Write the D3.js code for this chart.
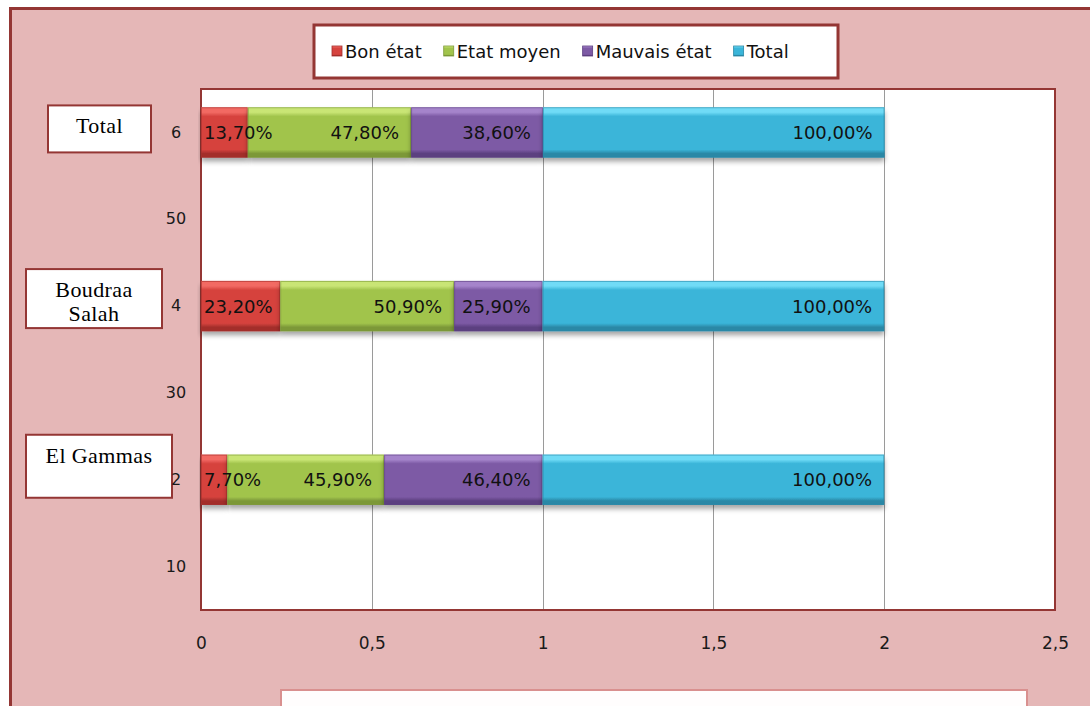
<!DOCTYPE html>
<html>
<head>
<meta charset="utf-8">
<script src="https://cdn.jsdelivr.net/npm/d3@7"></script>
<style>
  body { margin: 0; background: #ffffff; }
  svg { display: block; }
</style>
</head>
<body>
<svg id="chart"></svg>
<script>
/* Data */
const sites = ["El Gammas", "Boudraa Salah", "Total"];
const siteRows = ["2", "4", "6"];
const bonEtat = [0.077, 0.232, 0.137];
const etatMoyen = [0.459, 0.509, 0.478];
const mauvaisEtat = [0.464, 0.259, 0.386];
const totalShare = [1, 1, 1];
const seriesNames = ["Bon état", "Etat moyen", "Mauvais état", "Total"];
const yTickLabels = ["10", "2", "30", "4", "50", "6"];
const xTicks = [0, 0.5, 1, 1.5, 2, 2.5];

/* colours: base, top highlight, bottom shade */
const palette = [
  ["#d6433e", "#f26a64", "#a32e2b"],
  ["#a1c44c", "#c9e575", "#7c9838"],
  ["#7d5aa5", "#a584cb", "#5c3f80"],
  ["#3ab5d9", "#6fdbf6", "#2a88a6"]
];

const rows = sites.map((s, i) => ({
  site: s, row: siteRows[i],
  "Bon état": bonEtat[i], "Etat moyen": etatMoyen[i],
  "Mauvais état": mauvaisEtat[i], "Total": totalShare[i]
}));

const W = 1090, H = 706;
const frame = "#943634";
const svg = d3.select("#chart").attr("width", W).attr("height", H);

/* Gradients and shadow */
const defs = svg.append("defs");
palette.forEach((c, i) => {
  const g = defs.append("linearGradient").attr("id", "grad" + i)
    .attr("x1", 0).attr("y1", 0).attr("x2", 0).attr("y2", 1);
  g.append("stop").attr("offset", "0%").attr("stop-color", c[1]);
  g.append("stop").attr("offset", "10%").attr("stop-color", c[1]);
  g.append("stop").attr("offset", "18%").attr("stop-color", c[0]);
  g.append("stop").attr("offset", "84%").attr("stop-color", c[0]);
  g.append("stop").attr("offset", "92%").attr("stop-color", c[2]);
  g.append("stop").attr("offset", "100%").attr("stop-color", c[2]);
});
const sh = defs.append("filter").attr("id", "shadow")
  .attr("x", "-5%").attr("y", "-20%").attr("width", "110%").attr("height", "160%");
sh.append("feDropShadow").attr("dx", 0).attr("dy", 4).attr("stdDeviation", 2.5)
  .attr("flood-color", "#000").attr("flood-opacity", 0.35);

/* Background and outer frame */
svg.append("rect").attr("x", 10).attr("y", 8).attr("width", W - 10).attr("height", H - 8)
  .attr("fill", "#e5b7b7");
svg.append("line").attr("x1", 9).attr("x2", W).attr("y1", 8.5).attr("y2", 8.5)
  .attr("stroke", frame).attr("stroke-width", 3);
svg.append("line").attr("x1", 10.5).attr("x2", 10.5).attr("y1", 7).attr("y2", H)
  .attr("stroke", frame).attr("stroke-width", 3);

/* Plot area */
const plot = { left: 201, right: 1055, top: 89, bottom: 610 };
const x = d3.scaleLinear().domain([0, 2.5]).range([plot.left, plot.right]);
const y = d3.scaleBand().domain(yTickLabels).range([plot.bottom, plot.top]);

svg.append("rect").attr("x", plot.left).attr("y", plot.top)
  .attr("width", plot.right - plot.left).attr("height", plot.bottom - plot.top)
  .attr("fill", "#ffffff").attr("stroke", frame).attr("stroke-width", 2);

/* Gridlines */
svg.append("g").selectAll("line").data(xTicks.filter(t => t > 0 && t < 2.5)).join("line")
  .attr("x1", d => Math.round(x(d)) + 0.5).attr("x2", d => Math.round(x(d)) + 0.5)
  .attr("y1", plot.top + 1).attr("y2", plot.bottom - 1)
  .attr("stroke", "#9a9a9a").attr("stroke-width", 1);

/* X axis */
const xAxis = svg.append("g").attr("transform", `translate(0,${plot.bottom + 24})`)
  .call(d3.axisBottom(x).tickValues(xTicks).tickSize(0)
    .tickFormat(d => String(d).replace(".", ",")));
xAxis.select(".domain").remove();
xAxis.selectAll("text").attr("font-family", "DejaVu Sans").attr("font-size", 17)
  .attr("fill", "#1a1a1a");

/* Category label boxes */
const boxes = [
  { x: 26, w: 146, top: -45, h: 63, lines: ["El Gammas"], first: -17 },
  { x: 26, w: 136, top: -37, h: 59, lines: ["Boudraa", "Salah"], first: -9 },
  { x: 48, w: 103, top: -27, h: 47, lines: ["Total"], first: 1 }
];
rows.forEach((r, i) => {
  const cy = y(r.row) + y.bandwidth() / 2;
  const b = boxes[i];
  const g = svg.append("g");
  g.append("rect").attr("x", b.x).attr("y", cy + b.top).attr("width", b.w).attr("height", b.h)
    .attr("fill", "#ffffff").attr("stroke", frame).attr("stroke-width", 2);
  b.lines.forEach((ln, k) => {
    g.append("text").attr("x", b.x + b.w / 2).attr("y", cy + b.first + k * 24)
      .attr("text-anchor", "middle").attr("font-family", "Liberation Serif")
      .attr("font-size", 22).attr("letter-spacing", 0.4).attr("fill", "#000").text(ln);
  });
});

/* Y axis labels */
const yAxis = svg.append("g").attr("transform", `translate(${plot.left - 25},0)`)
  .call(d3.axisLeft(y).tickSize(0).tickPadding(0));
yAxis.select(".domain").remove();
yAxis.selectAll("text").attr("text-anchor", "middle").attr("font-family", "DejaVu Sans")
  .attr("font-size", 16).attr("fill", "#1a1a1a");

/* Stacked bars */
const stacked = d3.stack().keys(seriesNames)(rows);
const barH = y.bandwidth() * 0.58;
const barY = d => y(d.data.row) + (y.bandwidth() - barH) / 2;

const layers = svg.append("g").selectAll("g").data(stacked).join("g")
  .attr("fill", (d, i) => `url(#grad${i})`);
layers.selectAll("rect").data(d => d).join("rect")
  .attr("x", d => x(d[0])).attr("y", barY)
  .attr("width", d => x(d[1]) - x(d[0])).attr("height", barH)
  .attr("filter", "url(#shadow)");
layers.each(function (s, i) {
  d3.select(this).selectAll("rect.edge").data(s).join("rect").attr("class", "edge")
    .attr("x", d => x(d[0]) + 0.5).attr("y", d => barY(d) + 0.5)
    .attr("width", d => x(d[1]) - x(d[0]) - 1).attr("height", barH - 1)
    .attr("fill", "none").attr("stroke", palette[i][2]).attr("stroke-opacity", 0.6);
});

/* Value labels */
const fmt = v => (v * 100).toFixed(2).replace(".", ",") + "%";
const labels = svg.append("g");
stacked.forEach(s => {
  s.forEach(d => {
    const t = labels.append("text")
      .attr("y", barY(d) + barH / 2).attr("dy", "0.36em")
      .attr("font-family", "DejaVu Sans").attr("font-size", 18).attr("fill", "#111")
      .text(fmt(d.data[s.key]));
    const w = t.node().getComputedTextLength();
    const xEnd = x(d[1]) - 12;
    if (xEnd - w < plot.left + 2) t.attr("x", plot.left + 3);
    else t.attr("x", xEnd).attr("text-anchor", "end");
  });
});

/* Legend */
const leg = svg.append("g");
leg.append("rect").attr("x", 314).attr("y", 25).attr("width", 524).attr("height", 53)
  .attr("fill", "#ffffff").attr("stroke", frame).attr("stroke-width", 3);
let lx = 332;
seriesNames.forEach((name, i) => {
  leg.append("rect").attr("x", lx).attr("y", 46).attr("width", 10).attr("height", 10)
    .attr("fill", `url(#grad${i})`).attr("stroke", palette[i][2]).attr("stroke-width", 0.8);
  const t = leg.append("text").attr("x", lx + 13).attr("y", 58)
    .attr("font-family", "DejaVu Sans").attr("font-size", 18).attr("fill", "#111").text(name);
  lx += 13 + t.node().getComputedTextLength() + 22;
});

/* Bottom text box (empty) */
svg.append("rect").attr("x", 281).attr("y", 690).attr("width", 746).attr("height", 30)
  .attr("fill", "#fffdfd").attr("stroke", "#d9908f").attr("stroke-width", 2);
</script>
</body>
</html>
